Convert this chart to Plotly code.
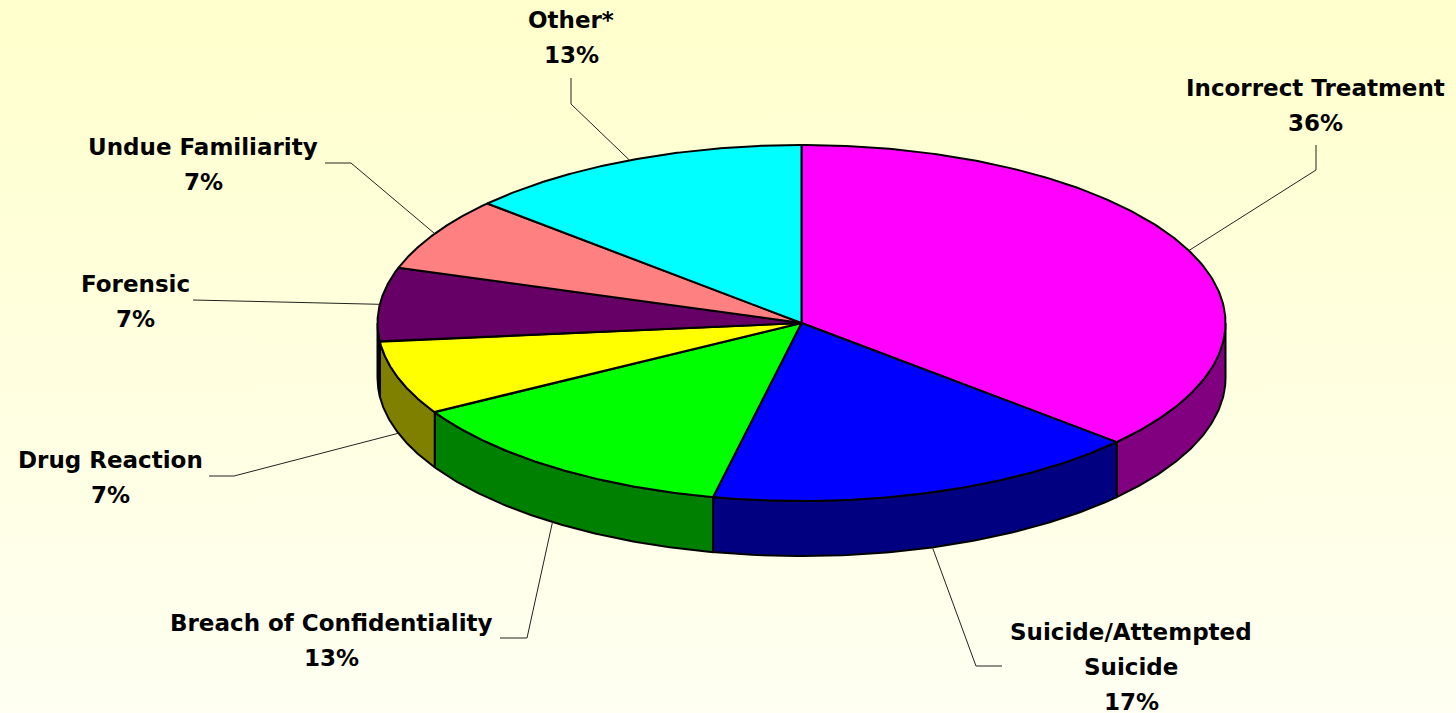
import numpy as np
import plotly.graph_objects as go

# ---- data ----
categories = ["Incorrect Treatment", "Suicide/Attempted Suicide", "Breach of Confidentiality",
              "Drug Reaction", "Forensic", "Undue Familiarity", "Other*"]
label_lines = [["Incorrect Treatment"], ["Suicide/Attempted", "Suicide"], ["Breach of Confidentiality"],
               ["Drug Reaction"], ["Forensic"], ["Undue Familiarity"], ["Other*"]]
values = [36.7, 16.7, 13.3, 6.7, 6.7, 6.7, 13.3]          # slice sizes as measured
pct_labels = ["36%", "17%", "13%", "7%", "7%", "7%", "13%"]  # printed labels

# ---- styles ----
top_colors = ["#FF00FF", "#0000FF", "#00FF00", "#FFFF00", "#660066", "#FF8080", "#00FFFF"]
side_colors = ["#800080", "#000080", "#008000", "#808000", "#330033", "#804040", "#008080"]

W, H = 1456, 713
CX, CY, RX, RY, DEPTH = 801.5, 323, 424, 178, 55

# label layout: (text center x, first line center y, elbow x, elbow y, end x, end y)
label_pos = [
    (1315, 88, 1316, 170, 1316, 145),
    (1131, 632, 976, 666, 1002, 666),
    (331, 623, 527, 638, 500, 638),
    (110, 460, 234, 476, 209, 476),
    (135, 284, 195, 300, 193, 300),
    (203, 147, 351, 163, 325, 163),
    (571, 20, 571, 104, 571, 78),
]
LINE_H = 35
FONT = dict(family="DejaVu Sans", size=23, color="black", weight="bold")


def pt(theta_deg, dy=0.0):
    t = np.radians(theta_deg)
    return CX + RX * np.sin(t), CY - RY * np.cos(t) + dy


fig = go.Figure()

# background gradient
fig.add_trace(go.Scatter(
    x=[0, W, W, 0, 0], y=[0, 0, H, H, 0], mode="lines", line=dict(width=0),
    fill="toself",
    fillgradient=dict(type="vertical", start=0, stop=H,
                      colorscale=[[0, "#FFFFCC"], [1, "#FFFFF2"]]),
    hoverinfo="skip", showlegend=False))

total = float(sum(values))
fracs = np.array(values) / total
cum = np.concatenate([[0], np.cumsum(fracs)]) * 360.0

# side walls (front half: 90..270 deg from top, clockwise)
for i in range(len(values)):
    a0, a1 = max(cum[i], 90.0), min(cum[i + 1], 270.0)
    if a1 <= a0:
        continue
    th = np.linspace(a0, a1, 80)
    xs_t, ys_t = pt(th)
    xs_b, ys_b = pt(th[::-1], DEPTH)
    xs = np.concatenate([xs_t, xs_b, xs_t[:1]])
    ys = np.concatenate([ys_t, ys_b, ys_t[:1]])
    fig.add_trace(go.Scatter(x=xs, y=ys, mode="lines", fill="toself",
                             fillcolor=side_colors[i], line=dict(color="black", width=2),
                             hoverinfo="skip", showlegend=False))

# top faces
for i in range(len(values)):
    th = np.linspace(cum[i], cum[i + 1], 200)
    xa, ya = pt(th)
    xs = np.concatenate([[CX], xa, [CX]])
    ys = np.concatenate([[CY], ya, [CY]])
    fig.add_trace(go.Scatter(x=xs, y=ys, mode="lines", fill="toself",
                             fillcolor=top_colors[i], line=dict(color="black", width=2),
                             hoverinfo="skip", showlegend=False))

# leader lines and labels
annotations = []
for i in range(len(values)):
    mid = (cum[i] + cum[i + 1]) / 2
    sx, sy = pt(mid)
    if sy > CY:
        sy += DEPTH
    tx, ty, ex, ey, fx, fy = label_pos[i]
    fig.add_trace(go.Scatter(x=[sx, ex, fx], y=[sy, ey, fy], mode="lines",
                             line=dict(color="#222222", width=1),
                             hoverinfo="skip", showlegend=False))
    lines = label_lines[i] + [pct_labels[i]]
    for k, ln in enumerate(lines):
        annotations.append(dict(x=tx, y=ty + k * LINE_H, xref="x", yref="y", text=ln,
                                showarrow=False, font=FONT, xanchor="center", yanchor="middle"))

fig.update_layout(
    width=W, height=H, margin=dict(l=0, r=0, t=0, b=0),
    paper_bgcolor="#FFFFE0", plot_bgcolor="rgba(0,0,0,0)",
    xaxis=dict(range=[0, W], visible=False, fixedrange=True),
    yaxis=dict(range=[H, 0], visible=False, fixedrange=True),
    annotations=annotations, showlegend=False,
)

fig.write_html("out.html", config={"displayModeBar": False},
               post_script="document.body.style.margin='0';document.body.style.overflow='hidden';")
